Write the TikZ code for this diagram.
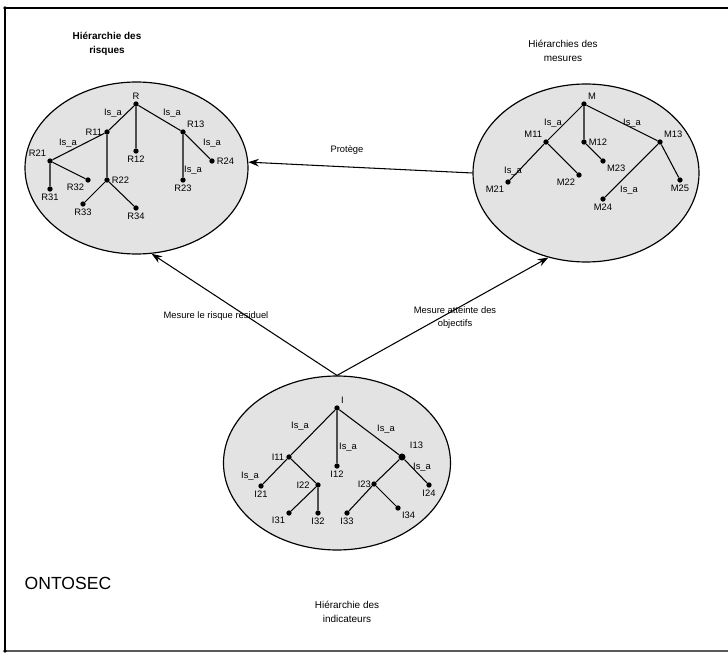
\documentclass[tikz,border=0pt]{standalone}
\usepackage{fontspec}
\setmainfont{Liberation Sans}
\usepackage{tikz}
\usetikzlibrary{shapes.geometric, arrows.meta, calc, positioning}
\definecolor{dotgray}{rgb}{0.89, 0.89, 0.89}
\definecolor{framegray}{rgb}{0.35, 0.35, 0.35}

\begin{document}
\begin{tikzpicture}[>={Stealth[length=9pt,width=6.5pt]}, x=0.03cm, y=-0.03cm,
    every label/.style={font=\fontsize{8}{9}\selectfont, inner sep=1.5pt}]
        \tikzstyle{point}=[circle,fill,inner sep=0pt, minimum width=4.5pt, minimum height=4.5pt]
        \tikzstyle{hier}=[ellipse,draw,fill=dotgray,line width=1pt,inner sep=0pt]
        \tikzstyle{isa}=[font=\fontsize{8}{9}\selectfont, inner sep=0pt]
        \tikzstyle{title}=[font=\fontsize{8.5}{12}\selectfont, align=center]
        \tikzstyle{link}=[->, line width=0.9pt]
        \useasboundingbox (0,0) rectangle (728,656);

        % Frame
        \draw[line width=0.9pt] (728,8) -- (5,8) -- (5,651);
        \draw[framegray, line width=0.9pt] (5,651) -- (728,651);
        \fill (5,8) circle (1.5pt);
        \fill (5,651) circle (1.5pt);

        % Hierarchies
        \node[hier, minimum width=223*0.03cm, minimum height=172*0.03cm] (risques) at (136.5,168) {};
        \node[hier, minimum width=226*0.03cm, minimum height=178*0.03cm] (mesures) at (586,173) {};
        \node[hier, minimum width=227*0.03cm, minimum height=174*0.03cm] (indicateurs) at (337,463) {};

        % Titles
        \node[title, font=\fontsize{8.5}{12}\selectfont\bfseries] (trisques) at (107,44) {Hiérarchie des\\risques};
        \node[title] (tmesures) at (563,51) {Hiérarchies des\\mesures};
        \node[title] (tindicateurs) at (347,612) {Hiérarchie des\\indicateurs};
        \node[font=\fontsize{15}{18}\selectfont] (onto) at (68,583) {ONTOSEC};

        % Risk tree
        \node (R)[point, label=above:R] at (136,104) {};
        \node (R11)[point, label=left:R11] at (107,132) {};
        \node (R12)[point, label=below:R12] at (136,151) {};
        \node (R13)[point, label=above right:R13] at (183,132) {};
        \node (R21)[point, label=above left:R21] at (50,161) {};
        \node (R22)[point, label=right:R22] at (107,180) {};
        \node (R23)[point, label=below:R23] at (183,180) {};
        \node (R24)[point, label=right:R24] at (212,161) {};
        \node (R31)[point, label=below:R31] at (50,189) {};
        \node (R32)[point, label=below left:R32] at (88,180) {};
        \node (R33)[point, label=below:R33] at (83,204) {};
        \node (R34)[point, label=below:R34] at (136,208) {};
        \draw[line width=0.9pt] (R) -- (R11) (R) -- (R12) (R) -- (R13)
            (R11) -- (R21) (R11) -- (R22) (R13) -- (R23) (R13) -- (R24)
            (R21) -- (R31) (R21) -- (R32) (R22) -- (R33) (R22) -- (R34);
        \node[isa] (risa1) at (113,113) {Is\_a};
        \node[isa] (risa2) at (172,113) {Is\_a};
        \node[isa] (risa3) at (68,143) {Is\_a};
        \node[isa] (risa4) at (212,143) {Is\_a};
        \node[isa] (risa5) at (193,170) {Is\_a};

        % Measures tree
        \node (M)[point, label=above right:M] at (584,104) {};
        \node (M11)[point, label=above left:M11] at (546,142) {};
        \node (M12)[point, label=right:M12] at (584,142) {};
        \node (M13)[point, label=above right:M13] at (660,142) {};
        \node (M21)[point, label=below left:M21] at (508,182) {};
        \node (M22)[point, label=below left:M22] at (579,175) {};
        \node (M23)[point, label=below right:M23] at (603,161) {};
        \node (M24)[point, label=below:M24] at (603,199) {};
        \node (M25)[point, label=below:M25] at (680,180) {};
        \draw[line width=0.9pt] (M) -- (M11) (M) -- (M12) (M) -- (M13)
            (M11) -- (M21) (M11) -- (M22) (M12) -- (M23)
            (M13) -- (M24) (M13) -- (M25);
        \node[isa] (misa1) at (553,123) {Is\_a};
        \node[isa] (misa2) at (632,123) {Is\_a};
        \node[isa] (misa3) at (513,171) {Is\_a};
        \node[isa] (misa4) at (629,190) {Is\_a};

        % Indicators tree
        \node (I)[point, label=above right:I] at (337,408) {};
        \node (I11)[point, label=left:I11] at (289,457) {};
        \node (I12)[point, label=below:I12] at (337,466) {};
        \node (I13)[point, minimum width=6pt, minimum height=6pt, label={[label distance=4pt]above right:I13}] at (402,457) {};
        \node (I21)[point, label=below:I21] at (261,486) {};
        \node (I22)[point, label={[label distance=3pt]left:I22}] at (318,485) {};
        \node (I23)[point, label={[inner sep=0pt]left:I23}] at (374,484) {};
        \node (I24)[point, label=below:I24] at (429,485) {};
        \node (I31)[point, label=below left:I31] at (289,513) {};
        \node (I32)[point, label=below:I32] at (318,513) {};
        \node (I33)[point, label=below:I33] at (347,513) {};
        \node (I34)[point, label=below right:I34] at (398,508) {};
        \draw[line width=0.9pt] (I) -- (I11) (I) -- (I12) (I) -- (I13)
            (I11) -- (I21) (I11) -- (I22) (I22) -- (I31) (I22) -- (I32)
            (I13) -- (I23) (I13) -- (I24) (I23) -- (I33) (I23) -- (I34);
        \node[isa] (iisa1) at (300,426) {Is\_a};
        \node[isa] (iisa2) at (386,429) {Is\_a};
        \node[isa] (iisa3) at (348,447) {Is\_a};
        \node[isa] (iisa4) at (422,467) {Is\_a};
        \node[isa] (iisa5) at (250,476) {Is\_a};

        % --- Relations between the hierarchies ---
        \coordinate (src) at (indicateurs.north);
        \draw[link] (mesures.west) -- (risques.3);
        \node[isa] (protege) at (347,150) {Protège};
        \draw[link] (src) -- (risques.-80);
        \node[isa] (residuel) at (216,316) {Mesure le risque residuel};
        \draw[link] (src) -- (mesures.-114);
        \node[isa, align=center, font=\fontsize{8}{11}\selectfont] (objectifs) at (455,318) {Mesure atteinte des\\objectifs};
    \end{tikzpicture}
\end{document}
